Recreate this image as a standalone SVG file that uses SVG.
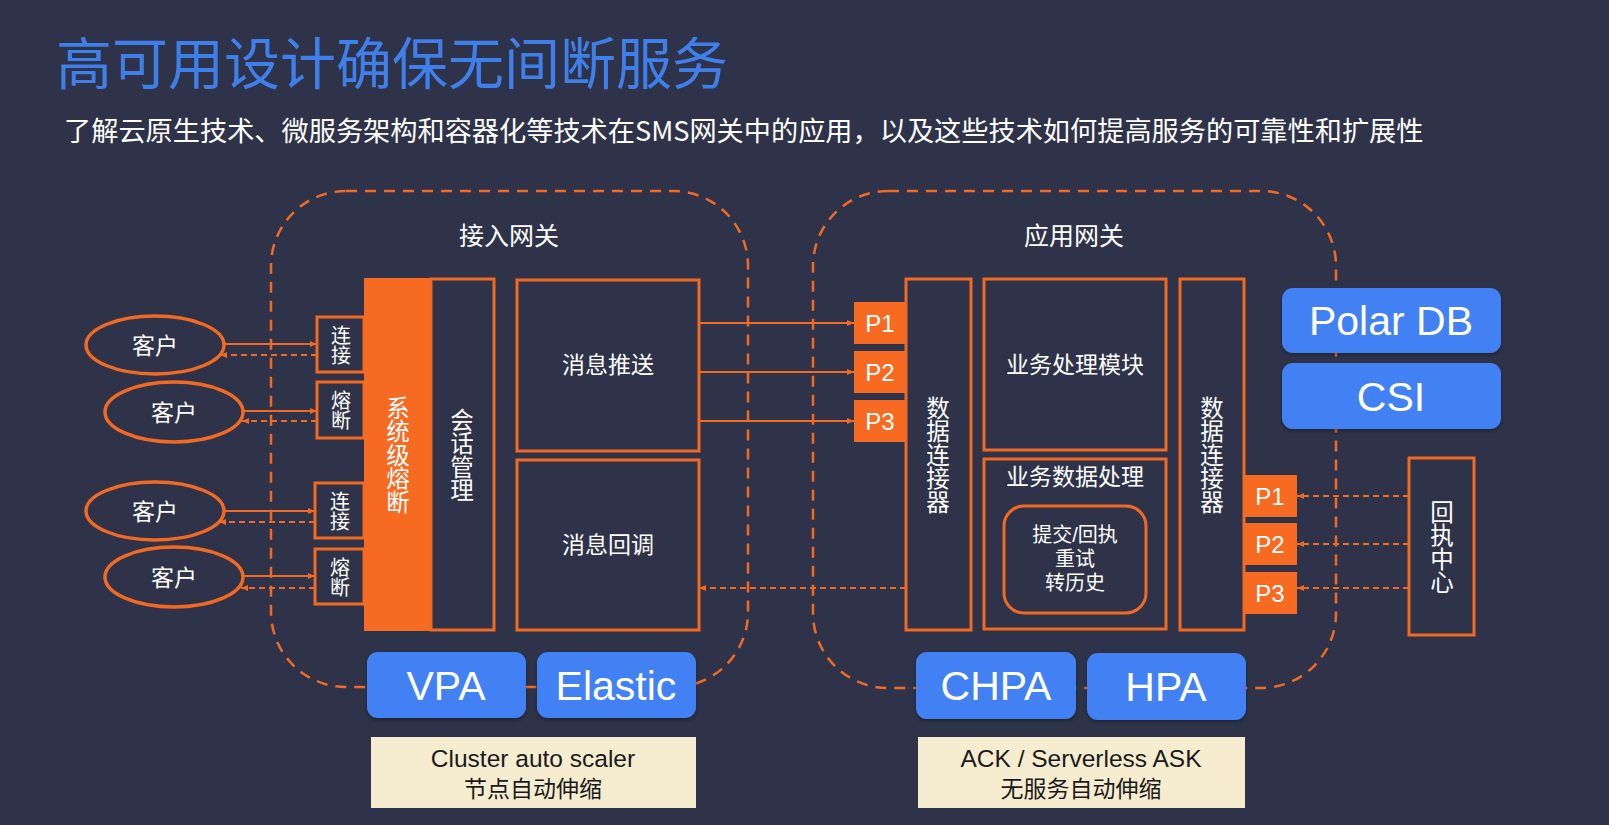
<svg xmlns="http://www.w3.org/2000/svg" width="1609" height="825" viewBox="0 0 1609 825">
<defs>
<style>
.region{fill:none;stroke:#F26A22;stroke-width:2.5;stroke-dasharray:11 8}
.box{fill:#2E3349;stroke:#F26A22;stroke-width:3}
.obox{fill:#F66A22}
.ell{fill:#2E3349;stroke:#F26A22;stroke-width:3.5}
.blue{fill:#4381F3;filter:url(#sh)}
.beige{fill:#F6ECD0}
.cjk{font-family:"Noto Sans CJK SC","Noto Sans",sans-serif;fill:#FFFFFF;dominant-baseline:central;text-anchor:middle}
.vt{font-family:"Noto Sans CJK SC","Noto Sans",sans-serif;fill:#FFFFFF;writing-mode:vertical-rl;text-anchor:middle}
.lat{font-family:"Liberation Sans","Noto Sans CJK SC",sans-serif;fill:#FFFFFF;dominant-baseline:central;text-anchor:middle}
.dk{fill:#1A1A1A}
.ln{stroke:#F26A22;stroke-width:2;fill:none}
.dl{stroke:#F26A22;stroke-width:2;fill:none;stroke-dasharray:6 4}
</style>
<marker id="ah" markerUnits="userSpaceOnUse" markerWidth="8" markerHeight="8" refX="7" refY="4" orient="auto">
<path d="M0,1 L7,4 L0,7 z" fill="#F26A22"/>
</marker>
<filter id="sh" x="-10%" y="-10%" width="120%" height="130%">
<feDropShadow dx="0" dy="2" stdDeviation="2" flood-color="#000" flood-opacity="0.35"/>
</filter>
</defs>
<rect width="1609" height="825" fill="#2E3349"/>

<text x="56" y="84" font-family="'Noto Sans CJK SC',sans-serif" font-size="56" fill="#3F7FEA">高可用设计确保无间断服务</text>
<text x="64" y="141" font-family="'Noto Sans CJK SC',sans-serif" font-size="27.2" fill="#FFFFFF">了解云原生技术、微服务架构和容器化等技术在SMS网关中的应用，以及这些技术如何提高服务的可靠性和扩展性</text>

<g id="region-access">
<rect class="region" x="271" y="191" width="477" height="496" rx="75"/>
<text class="cjk" x="509" y="234" font-size="25">接入网关</text>
</g>
<g id="region-app">
<rect class="region" x="813" y="191" width="523" height="497" rx="75"/>
<text class="cjk" x="1074" y="234" font-size="25">应用网关</text>
</g>

<g id="connectors">
<line class="ln" x1="224" y1="344" x2="317" y2="344" marker-end="url(#ah)"/>
<line class="dl" x1="317" y1="355" x2="220" y2="355" marker-end="url(#ah)"/>
<line class="ln" x1="243" y1="411" x2="317" y2="411" marker-end="url(#ah)"/>
<line class="dl" x1="317" y1="421" x2="242" y2="421" marker-end="url(#ah)"/>
<line class="ln" x1="224" y1="511" x2="315" y2="511" marker-end="url(#ah)"/>
<line class="dl" x1="315" y1="522" x2="219" y2="522" marker-end="url(#ah)"/>
<line class="ln" x1="243" y1="576" x2="315" y2="576" marker-end="url(#ah)"/>
<line class="dl" x1="315" y1="588" x2="241" y2="588" marker-end="url(#ah)"/>
<line class="ln" x1="699" y1="323" x2="854" y2="323" marker-end="url(#ah)"/>
<line class="ln" x1="699" y1="372" x2="854" y2="372" marker-end="url(#ah)"/>
<line class="ln" x1="699" y1="421" x2="854" y2="421" marker-end="url(#ah)"/>
<line class="dl" x1="906" y1="588" x2="699" y2="588" marker-end="url(#ah)"/>
<line class="dl" x1="1409" y1="496" x2="1297" y2="496" marker-end="url(#ah)"/>
<line class="dl" x1="1409" y1="544" x2="1297" y2="544" marker-end="url(#ah)"/>
<line class="dl" x1="1409" y1="588" x2="1297" y2="588" marker-end="url(#ah)"/>
</g>

<g id="client1"><ellipse class="ell" cx="155" cy="345" rx="69" ry="29"/><text class="cjk" x="155" y="344" font-size="23">客户</text></g>
<g id="client2"><ellipse class="ell" cx="174" cy="412" rx="69" ry="30"/><text class="cjk" x="174" y="411" font-size="23">客户</text></g>
<g id="client3"><ellipse class="ell" cx="155" cy="511" rx="69" ry="29"/><text class="cjk" x="155" y="510" font-size="23">客户</text></g>
<g id="client4"><ellipse class="ell" cx="174" cy="577" rx="69" ry="30"/><text class="cjk" x="174" y="576" font-size="23">客户</text></g>

<g id="conn1"><rect class="box" x="317" y="317" width="47" height="55"/><text class="vt" x="341" y="345" font-size="20">连接</text></g>
<g id="fuse1"><rect class="box" x="317" y="382" width="47" height="56"/><text class="vt" x="341" y="410" font-size="20">熔断</text></g>
<g id="conn2"><rect class="box" x="315" y="483" width="49" height="55"/><text class="vt" x="340" y="511" font-size="20">连接</text></g>
<g id="fuse2"><rect class="box" x="315" y="549" width="49" height="55"/><text class="vt" x="340" y="577" font-size="20">熔断</text></g>

<g id="sys-fuse"><rect class="obox" x="364" y="278" width="67" height="353"/>
<text class="vt" x="398" y="455" font-size="23.5">系统级熔断</text></g>
<g id="session"><rect class="box" x="431" y="279" width="63" height="351"/>
<text class="vt" x="462" y="455" font-size="23.5">会话管理</text></g>

<g id="push"><rect class="box" x="517" y="280" width="182" height="171"/><text class="cjk" x="608" y="363" font-size="23">消息推送</text></g>
<g id="callback"><rect class="box" x="517" y="460" width="182" height="170"/><text class="cjk" x="608" y="543" font-size="23">消息回调</text></g>

<g id="p1-in"><rect class="obox" x="854" y="302" width="52" height="42"/><text class="lat" x="880" y="323" font-size="24">P1</text></g>
<g id="p2-in"><rect class="obox" x="854" y="351" width="52" height="42"/><text class="lat" x="880" y="372" font-size="24">P2</text></g>
<g id="p3-in"><rect class="obox" x="854" y="400" width="52" height="42"/><text class="lat" x="880" y="421" font-size="24">P3</text></g>

<g id="data-conn1"><rect class="box" x="906" y="279" width="65" height="351"/>
<text class="vt" x="938" y="455" font-size="23.5">数据连接器</text></g>

<g id="biz-module"><rect class="box" x="984" y="279" width="182" height="171"/><text class="cjk" x="1075" y="363" font-size="23">业务处理模块</text></g>
<g id="biz-data"><rect class="box" x="984" y="459" width="182" height="170"/><text class="cjk" x="1075" y="475" font-size="23">业务数据处理</text>
<rect class="box" x="1004" y="506" width="142" height="107" rx="20"/>
<text font-family="'Liberation Sans','Noto Sans CJK SC',sans-serif" fill="#FFFFFF" text-anchor="middle" font-size="20"><tspan x="1075" y="542">提交/回执</tspan><tspan x="1075" y="566">重试</tspan><tspan x="1075" y="590">转历史</tspan></text></g>

<g id="data-conn2"><rect class="box" x="1180" y="279" width="64" height="351"/>
<text class="vt" x="1212" y="455" font-size="23.5">数据连接器</text></g>

<g id="p1-out"><rect class="obox" x="1244" y="475" width="53" height="42"/><text class="lat" x="1270" y="496" font-size="24">P1</text></g>
<g id="p2-out"><rect class="obox" x="1244" y="523" width="53" height="42"/><text class="lat" x="1270" y="544" font-size="24">P2</text></g>
<g id="p3-out"><rect class="obox" x="1244" y="572" width="53" height="42"/><text class="lat" x="1270" y="593" font-size="24">P3</text></g>

<g id="receipt"><rect class="box" x="1409" y="458" width="65" height="177"/>
<text class="vt" x="1442" y="547" font-size="23.5">回执中心</text></g>

<g id="polardb"><rect class="blue" x="1282" y="288" width="219" height="65" rx="11"/><text class="lat" x="1391" y="321" font-size="41">Polar DB</text></g>
<g id="csi"><rect class="blue" x="1282" y="363" width="219" height="66" rx="11"/><text class="lat" x="1391" y="397" font-size="41">CSI</text></g>

<g id="vpa"><rect class="blue" x="367" y="652" width="159" height="66" rx="11"/><text class="lat" x="446" y="686" font-size="41">VPA</text></g>
<g id="elastic"><rect class="blue" x="537" y="652" width="159" height="66" rx="11"/><text class="lat" x="616" y="686" font-size="41">Elastic</text></g>
<g id="chpa"><rect class="blue" x="916" y="652" width="160" height="67" rx="11"/><text class="lat" x="996" y="686" font-size="41">CHPA</text></g>
<g id="hpa"><rect class="blue" x="1087" y="653" width="159" height="67" rx="11"/><text class="lat" x="1166" y="687" font-size="41">HPA</text></g>

<g id="cluster-scaler"><rect class="beige" x="371" y="737" width="325" height="71"/>
<text class="lat dk" x="533" y="758" font-size="24.5">Cluster auto scaler</text>
<text class="cjk dk" x="533" y="787" font-size="23">节点自动伸缩</text></g>
<g id="serverless"><rect class="beige" x="918" y="737" width="327" height="71"/>
<text class="lat dk" x="1081" y="758" font-size="24.5">ACK / Serverless ASK</text>
<text class="cjk dk" x="1081" y="787" font-size="23">无服务自动伸缩</text></g>
</svg>
